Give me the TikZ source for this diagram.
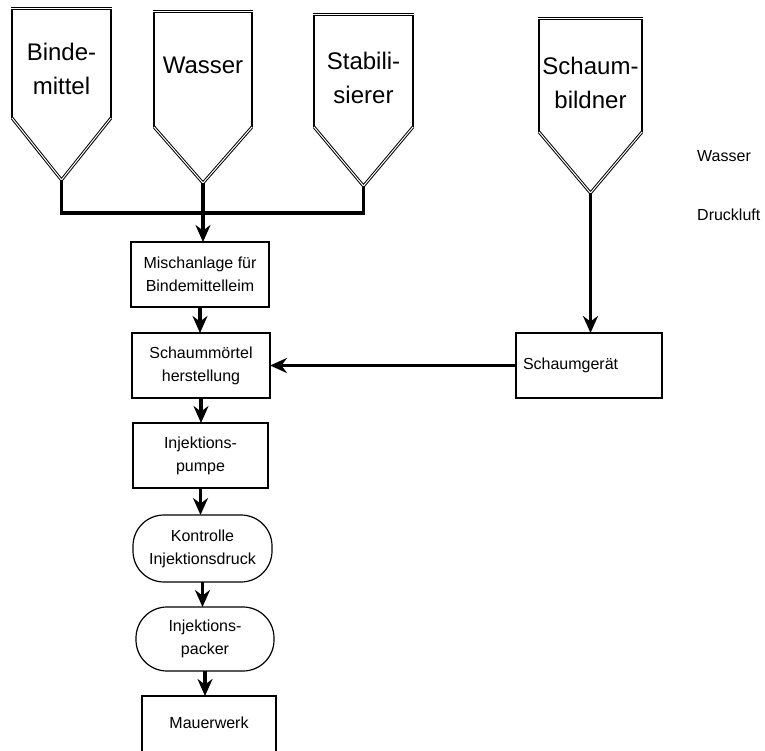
\documentclass[tikz,border=0pt]{standalone}
\usepackage{fontspec}
\setmainfont{Liberation Sans}
\usetikzlibrary{positioning,arrows.meta,calc}

\begin{document}
\begin{tikzpicture}[
  x=1pt, y=-1pt,
  font=\fontsize{16}{23}\selectfont,
  box/.style={draw, line width=1.2pt, align=center, inner sep=4pt, outer sep=0pt,
              minimum width=138pt, minimum height=65pt},
  oval/.style={box, rounded corners=31pt},
  silotext/.style={align=center, inner sep=0pt, font=\fontsize{24}{34}\selectfont},
  side/.style={line width=2pt},
  rim/.style={draw=black, double=white, double distance=1pt, line width=1pt},
  pipe/.style={line width=3.5pt},
  arr/.style={-{Stealth[length=17pt, width=15pt]}, line width=3.5pt},
]
\useasboundingbox (0,0) rectangle (765,751);
\foreach \nm/\xl/\xr/\yt/\ys/\yb/\yl/\txt in {
    binder/12/111/9/118/180/69/{Binde-\\mittel},
    water/154/252/12/127/183/65/{Wasser},
    stab/314/413/15/127/186/78/{Stabili-\\sierer},
    foamer/539/642/19/132/193/83/{Schaum-\\bildner}} {
  \coordinate (\nm-tip) at ({(\xl+\xr)/2},\yb);
  \draw[side] (\xl,\yt) -- (\xl,\ys) (\xr,\yt) -- (\xr,\ys);
  \draw[rim] (\xl-1,\yt) -- (\xr+1,\yt);
  \draw[rim] (\xl,\ys) -- (\nm-tip) -- (\xr,\ys);
  \node[silotext] (\nm) at ({(\xl+\xr)/2},\yl) {\txt};
}
\node[box] (misch) at (200,274.5) {Mischanlage für\\Bindemittelleim};
\node[box, below=26pt of misch, xshift=1pt] (mortar) {Schaummörtel\\herstellung};
\node[box, below=25pt of mortar, xshift=-0.5pt, minimum width=135pt] (pump)
  {Injektions-\\pumpe};
\node[oval, below=27pt of pump, xshift=2pt, minimum width=139pt, minimum height=67pt] (ctrl)
  {Kontrolle\\Injektionsdruck};
\node[oval, below=25pt of ctrl, xshift=2.5pt, minimum height=64pt] (packer)
  {Injektions-\\packer};
\node[box, below=25pt of packer, xshift=4pt, minimum width=134pt, text depth=12pt] (wall)
  {Mauerwerk};
\node[box, minimum width=146pt, text width=132pt, align=left, inner xsep=7pt] (foam)
  at (589,365.5) {Schaumgerät};
\node[anchor=west, inner sep=0pt] (lblwater) at (697,156.5) {Wasser};
\node[anchor=west, inner sep=0pt] (lblair) at (697,215) {Druckluft};
\coordinate (join) at (water-tip |- 0,213);
\draw[pipe] (binder-tip) |- (join) -| (stab-tip);
\draw[arr] (water-tip) -- (water-tip |- misch.north);
\foreach \p/\q in {misch/mortar, mortar/pump, pump/ctrl, ctrl/packer, packer/wall}
  \draw[arr] (\p.south) -- (\p.south |- \q.north);
\draw[arr] (foamer-tip) -- (foamer-tip |- foam.north);
\draw[arr] (foam.west) -- (mortar.east);
\end{tikzpicture}
\end{document}
